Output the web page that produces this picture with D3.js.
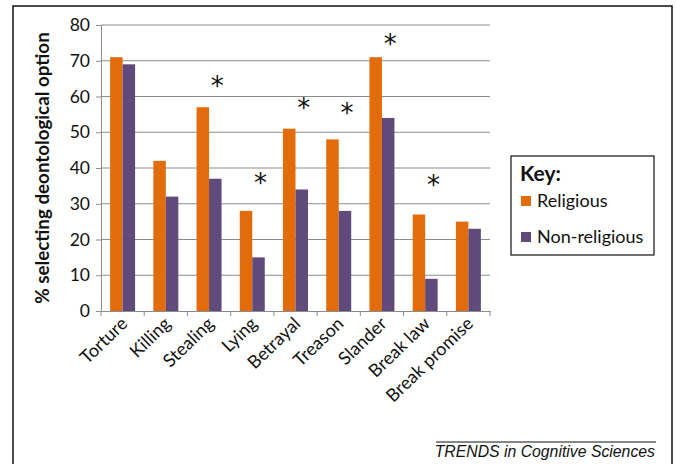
<!DOCTYPE html>
<html>
<head>
<meta charset="utf-8">
<script src="https://cdn.jsdelivr.net/npm/d3@7"></script>
<style>
  body { margin: 0; background: #fff; }
  svg { display: block; }
</style>
</head>
<body>
<svg id="chart" width="676" height="464"></svg>
<script>
// data
const categories = ['Torture', 'Killing', 'Stealing', 'Lying', 'Betrayal', 'Treason', 'Slander', 'Break law', 'Break promise']
const seriesNames = ['Religious', 'Non-religious']
const religious = [71, 42, 57, 28, 51, 48, 71, 27, 25]
const nonReligious = [69, 32, 37, 15, 34, 28, 54, 9, 23]
// significance markers: category and height (in % units) of the asterisk
const starCats = ['Stealing', 'Lying', 'Betrayal', 'Treason', 'Slander', 'Break law']
const starLevels = [64.5, 37.5, 58.5, 57, 76.5, 37]
const yTicks = [0, 10, 20, 30, 40, 50, 60, 70, 80]

const colors = d3.scaleOrdinal().domain(seriesNames).range(['#E36C0A', '#604A7B'])

const svg = d3.select('#chart')
const font = 'Lato, "Open Sans", sans-serif'

// outer frame
svg.append('rect')
  .attr('x', 13).attr('y', 6)
  .attr('width', 659).attr('height', 480)
  .attr('fill', 'none').attr('stroke', '#111').attr('stroke-width', 1.5)

const plot = { left: 101, right: 490, top: 25, bottom: 311 }

const y = d3.scaleLinear().domain([0, 80]).range([plot.bottom, plot.top])
const x0 = d3.scaleBand().domain(categories).range([plot.left, plot.right]).padding(0)
const x1 = d3.scaleBand().domain(seriesNames).range([0, x0.bandwidth()])
  .paddingInner(0).paddingOuter(0.73)

// grid
svg.append('g')
  .selectAll('line')
  .data(yTicks.filter(d => d > 0))
  .enter().append('line')
  .attr('x1', plot.left).attr('x2', plot.right)
  .attr('y1', d => y(d)).attr('y2', d => y(d))
  .attr('stroke', '#8c8c8c').attr('stroke-width', 1)

// y axis
const yAxis = svg.append('g')
  .attr('transform', 'translate(' + plot.left + ',0)')
  .call(d3.axisLeft(y).tickValues(yTicks).tickSize(5).tickPadding(6))
yAxis.select('.domain').attr('stroke', '#8c8c8c')
yAxis.selectAll('.tick line').attr('stroke', '#8c8c8c')
yAxis.selectAll('.tick text')
  .attr('font-family', font).attr('font-size', 17.5).attr('fill', '#111')

// bars
const rows = categories.map((c, i) => ({ key: c, values: [religious[i], nonReligious[i]] }))
svg.append('g')
  .selectAll('g')
  .data(rows)
  .enter().append('g')
  .attr('transform', d => 'translate(' + x0(d.key) + ',0)')
  .selectAll('rect')
  .data(d => seriesNames.map((s, j) => ({ series: s, value: d.values[j] })))
  .enter().append('rect')
  .attr('x', d => x1(d.series))
  .attr('width', x1.bandwidth())
  .attr('y', d => y(d.value))
  .attr('height', d => y(0) - y(d.value))
  .attr('fill', d => colors(d.series))

// x axis
const xAxis = svg.append('g')
  .attr('transform', 'translate(0,' + plot.bottom + ')')
  .call(d3.axisBottom(x0).tickSize(0).tickFormat(''))
xAxis.select('.domain').attr('stroke', '#8c8c8c')
svg.append('g')
  .selectAll('line')
  .data(d3.range(categories.length + 1))
  .enter().append('line')
  .attr('x1', i => plot.left + i * x0.step()).attr('x2', i => plot.left + i * x0.step())
  .attr('y1', plot.bottom).attr('y2', plot.bottom + 5)
  .attr('stroke', '#8c8c8c')

svg.append('g')
  .selectAll('text')
  .data(categories)
  .enter().append('text')
  .attr('transform', d => 'translate(' + (x0(d) + x0.bandwidth() / 2 + 6) + ',' + (plot.bottom + 14) + ') rotate(-44)')
  .attr('text-anchor', 'end')
  .attr('font-family', font).attr('font-size', 18).attr('fill', '#111')
  .text(d => d)

// asterisks
svg.append('g')
  .selectAll('text')
  .data(starCats.map((c, i) => ({ key: c, level: starLevels[i] })))
  .enter().append('text')
  .attr('x', d => x0(d.key) + x1('Non-religious') + x1.bandwidth() / 2 + 2)
  .attr('y', d => y(d.level) + 15)
  .attr('text-anchor', 'middle')
  .attr('font-family', '"DejaVu Sans", sans-serif').attr('font-size', 26).attr('fill', '#111')
  .text('*')

// y title
svg.append('text')
  .attr('transform', 'translate(49,' + ((plot.top + plot.bottom) / 2) + ') rotate(-90)')
  .attr('text-anchor', 'middle')
  .attr('font-family', font).attr('font-size', 18.8).attr('font-weight', 'bold').attr('fill', '#111')
  .text('% selecting deontological option')

// legend
const legend = svg.append('g')
legend.append('rect')
  .attr('x', 511).attr('y', 156).attr('width', 143).attr('height', 99)
  .attr('fill', '#fff').attr('stroke', '#111').attr('stroke-width', 1.2)
legend.append('text')
  .attr('x', 520).attr('y', 181)
  .attr('font-family', font).attr('font-size', 21).attr('font-weight', 'bold').attr('fill', '#111')
  .text('Key:')
seriesNames.forEach(function (s, i) {
  legend.append('rect')
    .attr('x', 521).attr('y', 196 + i * 36).attr('width', 10).attr('height', 10)
    .attr('fill', colors(s))
  legend.append('text')
    .attr('x', 537).attr('y', 207 + i * 36)
    .attr('font-family', font).attr('font-size', 18).attr('fill', '#111')
    .text(s)
})

// footer
svg.append('line')
  .attr('x1', 436).attr('x2', 656).attr('y1', 442).attr('y2', 442)
  .attr('stroke', '#111').attr('stroke-width', 1)
svg.append('text')
  .attr('x', 655).attr('y', 457)
  .attr('text-anchor', 'end')
  .attr('font-family', '"Liberation Sans", Arial, sans-serif').attr('font-size', 15.8).attr('font-style', 'italic').attr('fill', '#111')
  .text('TRENDS in Cognitive Sciences')
</script>
</body>
</html>
